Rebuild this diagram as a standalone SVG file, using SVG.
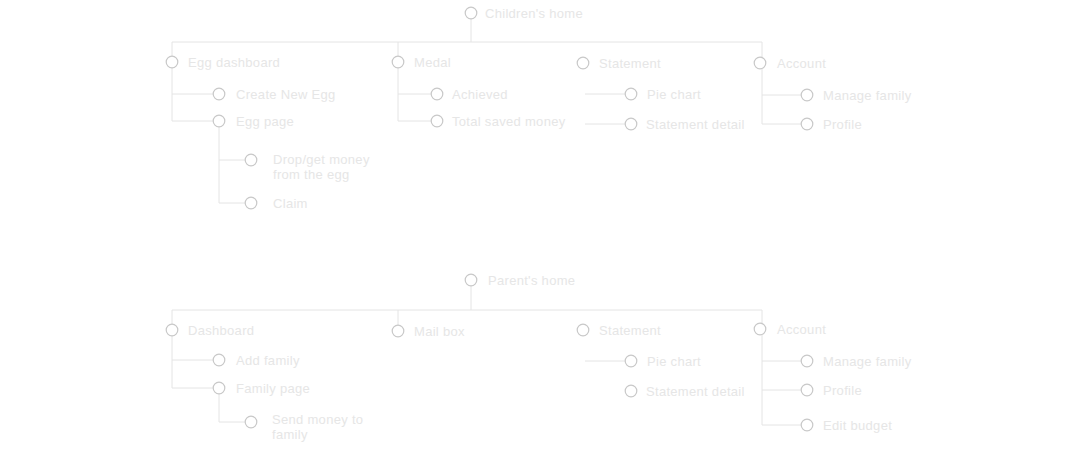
<svg xmlns="http://www.w3.org/2000/svg" width="1080" height="450" viewBox="0 0 1080 450">
<style>
.bg{fill:#ffffff}
.ln{fill:none;stroke:#e4e4e4;stroke-width:1}
.nd circle{fill:#ffffff;stroke:#c8c8c8;stroke-width:1.2}
.nd text{font-family:"Liberation Sans",Arial,sans-serif;font-size:13px;letter-spacing:0.3px;fill:#e6e6e6}
</style>
<rect class="bg" x="0" y="0" width="1080" height="450"/>
<g id="connectors" class="ln">
<path d="M471 19V42M172 42H762"/>
<path d="M172 42V56M172 68V121M172 94H213M172 121H213"/>
<path d="M219 127V203M219 160H245M219 203H245"/>
<path d="M398 42V56M398 68V121M398 94H431M398 121H431"/>
<path d="M585 94H625M585 124H625"/>
<path d="M762 42V57M762 69V124M762 95H801M762 124H801"/>
<path d="M471 286V310M172 310H762"/>
<path d="M172 310V324M172 336V388M172 360H213M172 388H213"/>
<path d="M219 394V422H245"/>
<path d="M398 310V325"/>
<path d="M585 361H625"/>
<path d="M762 310V323M762 335V425M762 361H801M762 390H801M762 425H801"/>
</g>
<g id="childrens-home" class="nd"><circle cx="471" cy="13" r="5.8"/><text x="485" y="17.5">Children's home</text></g>
<g id="egg-dashboard" class="nd"><circle cx="172" cy="62" r="5.8"/><text x="188" y="66.5">Egg dashboard</text></g>
<g id="create-new-egg" class="nd"><circle cx="219" cy="94" r="5.8"/><text x="236" y="98.5">Create New Egg</text></g>
<g id="egg-page" class="nd"><circle cx="219" cy="121" r="5.8"/><text x="236" y="125.5">Egg page</text></g>
<g id="drop-get-money" class="nd"><circle cx="251" cy="160" r="5.8"/><text x="273" y="164">Drop/get money</text><text x="273" y="179">from the egg</text></g>
<g id="claim" class="nd"><circle cx="251" cy="203" r="5.8"/><text x="273" y="207.5">Claim</text></g>
<g id="medal" class="nd"><circle cx="398" cy="62" r="5.8"/><text x="414" y="66.5">Medal</text></g>
<g id="achieved" class="nd"><circle cx="437" cy="94" r="5.8"/><text x="452" y="98.5">Achieved</text></g>
<g id="total-saved-money" class="nd"><circle cx="437" cy="121" r="5.8"/><text x="452" y="125.5">Total saved money</text></g>
<g id="statement-c" class="nd"><circle cx="583" cy="63" r="5.8"/><text x="599" y="67.5">Statement</text></g>
<g id="pie-chart-c" class="nd"><circle cx="631" cy="94" r="5.8"/><text x="647" y="98.5">Pie chart</text></g>
<g id="statement-detail-c" class="nd"><circle cx="631" cy="124" r="5.8"/><text x="646" y="128.5">Statement detail</text></g>
<g id="account-c" class="nd"><circle cx="760" cy="63" r="5.8"/><text x="777" y="67.5">Account</text></g>
<g id="manage-family-c" class="nd"><circle cx="807" cy="95" r="5.8"/><text x="823" y="99.5">Manage family</text></g>
<g id="profile-c" class="nd"><circle cx="807" cy="124" r="5.8"/><text x="823" y="128.5">Profile</text></g>
<g id="parents-home" class="nd"><circle cx="471" cy="280" r="5.8"/><text x="488" y="284.5">Parent's home</text></g>
<g id="dashboard" class="nd"><circle cx="172" cy="330" r="5.8"/><text x="188" y="334.5">Dashboard</text></g>
<g id="add-family" class="nd"><circle cx="219" cy="360" r="5.8"/><text x="236" y="364.5">Add family</text></g>
<g id="family-page" class="nd"><circle cx="219" cy="388" r="5.8"/><text x="236" y="392.5">Family page</text></g>
<g id="send-money" class="nd"><circle cx="251" cy="422" r="5.8"/><text x="272" y="424">Send money to</text><text x="272" y="439">family</text></g>
<g id="mail-box" class="nd"><circle cx="398" cy="331" r="5.8"/><text x="414" y="335.5">Mail box</text></g>
<g id="statement-p" class="nd"><circle cx="583" cy="330" r="5.8"/><text x="599" y="334.5">Statement</text></g>
<g id="pie-chart-p" class="nd"><circle cx="631" cy="361" r="5.8"/><text x="647" y="365.5">Pie chart</text></g>
<g id="statement-detail-p" class="nd"><circle cx="631" cy="391" r="5.8"/><text x="646" y="395.5">Statement detail</text></g>
<g id="account-p" class="nd"><circle cx="760" cy="329" r="5.8"/><text x="777" y="333.5">Account</text></g>
<g id="manage-family-p" class="nd"><circle cx="807" cy="361" r="5.8"/><text x="823" y="365.5">Manage family</text></g>
<g id="profile-p" class="nd"><circle cx="807" cy="390" r="5.8"/><text x="823" y="394.5">Profile</text></g>
<g id="edit-budget" class="nd"><circle cx="807" cy="425" r="5.8"/><text x="823" y="429.5">Edit budget</text></g>
</svg>
